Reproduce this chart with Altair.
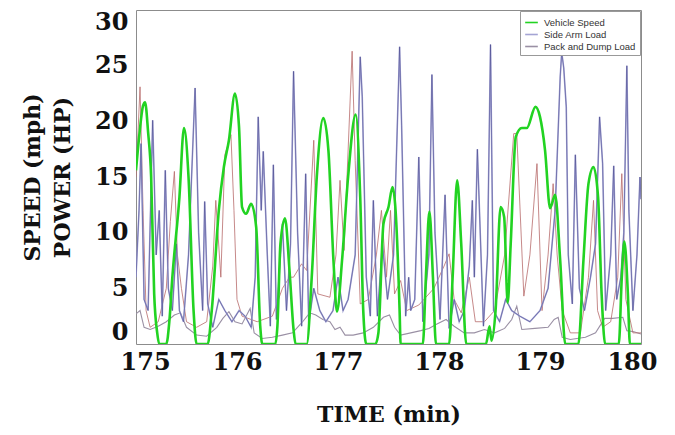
import altair as alt
import pandas as pd

# ---- data ----
speed_t = [175.00, 175.03, 175.07, 175.09, 175.12, 175.15, 175.18, 175.21, 175.23, 175.30,
           175.33, 175.36, 175.43, 175.475, 175.52, 175.57, 175.60, 175.71, 175.75, 175.82,
           175.87, 175.92, 175.98, 176.02, 176.05, 176.09, 176.14, 176.19, 176.23, 176.25,
           176.38, 176.40, 176.43, 176.475, 176.52, 176.56, 176.58, 176.69, 176.74, 176.79,
           176.855, 176.905, 176.955, 176.99, 177.04, 177.10, 177.175, 177.22, 177.25, 177.28,
           177.37, 177.40, 177.45, 177.50, 177.54, 177.57, 177.61, 177.62, 177.84, 177.87,
           177.905, 177.94, 177.97, 178.10, 178.135, 178.18, 178.22, 178.27, 178.465, 178.50,
           178.52, 178.56, 178.61, 178.645, 178.68, 178.71, 178.76, 178.82, 178.87, 178.955,
           179.00, 179.05, 179.10, 179.15, 179.20, 179.25, 179.38, 179.43, 179.48, 179.53,
           179.575, 179.61, 179.645, 179.78, 179.81, 179.835, 179.87, 179.89, 180.00]
speed_v = [15.6, 18.5, 21.4, 21.7, 19.0, 15.0, 4.5, 1.0, 0, 0,
           2, 6, 13.2, 19.4, 15.0, 3, 0, 0, 3, 12,
           15.9, 18.3, 22.5, 19.5, 12.3, 11.7, 12.6, 10.5, 1.6, 0,
           0, 1.6, 9, 11.3, 6.6, 1.3, 0, 0, 6, 15,
           20.3, 17.4, 7.5, 2.9, 7.5, 15, 20.6, 13.2, 3, 0,
           0, 1, 10.8, 12.3, 14.1, 12, 3, 0, 0, 6,
           11.9, 6, 0, 0, 6, 14.7, 9, 0, 0, 1.6,
           0.3, 3, 12.3, 11.4, 3.7, 9, 18.6, 19.4, 19.4, 21.3,
           20.4, 17.4, 12.2, 13.4, 7.5, 0, 0, 7.5, 14.4, 15.9,
           13.2, 4.5, 0, 0, 6, 9.2, 4.5, 0, 0]

side_t = [175.00, 175.03, 175.05, 175.08, 175.12, 175.165, 175.20, 175.23, 175.26, 175.29,
          175.32, 175.36, 175.40, 175.43, 175.47, 175.52, 175.585, 175.62, 175.66, 175.68,
          175.71, 175.76, 175.82, 175.88, 175.95, 176.02, 176.08, 176.14, 176.18, 176.21,
          176.24, 176.26, 176.30, 176.33, 176.36, 176.39, 176.45, 176.49, 176.53, 176.56,
          176.60, 176.64, 176.68, 176.71, 176.76, 176.82, 176.88, 176.95, 177.00, 177.05,
          177.10, 177.17, 177.22, 177.24, 177.28, 177.32, 177.35, 177.39, 177.44, 177.49,
          177.55, 177.61, 177.63, 177.67, 177.70, 177.72, 177.76, 177.80, 177.84, 177.90,
          177.93, 177.96, 178.01, 178.06, 178.10, 178.15, 178.20, 178.25, 178.30, 178.33,
          178.35, 178.38, 178.44, 178.48, 178.51, 178.54, 178.60, 178.66, 178.72, 178.80,
          178.90, 179.00, 179.08, 179.15, 179.20, 179.215, 179.235, 179.26, 179.28, 179.32,
          179.35, 179.39, 179.44, 179.50, 179.55, 179.59, 179.62, 179.65, 179.70, 179.73,
          179.76, 179.80, 179.83, 179.86, 179.88, 179.92, 179.96, 179.99, 180.00]
side_v = [6, 12, 18, 4, 3, 20.1, 8, 12, 2.5, 15.6,
          5, 3, 9, 3, 2, 8, 23, 10, 3, 12.8,
          3.6, 1.5, 4, 3, 2, 3, 2.5, 1.5, 6, 20.4,
          12, 17.3, 8, 1.6, 16.1, 2.2, 10.8, 3, 9, 24.5,
          10, 1.6, 15.3, 1.9, 5, 3, 2, 3, 6, 3,
          4, 8, 25.8, 22.2, 6, 2.5, 12.9, 2.5, 9, 4,
          8, 26.7, 19.6, 2.5, 6, 3, 4, 16.8, 2, 8,
          24.2, 10, 2.2, 13.4, 1.4, 4, 2, 3, 7, 12.9,
          6, 17.5, 1.6, 8, 26.9, 3, 2, 4, 3, 2.5,
          2, 3, 5, 12, 24, 26.2, 24.8, 21.3, 8, 3.6,
          17, 5, 3, 6, 9, 20.4, 16.2, 3, 8, 16,
          4, 6, 10, 25, 12, 3, 8, 15, 13]

dump_t = [175.00, 175.04, 175.08, 175.14, 175.22, 175.30, 175.38, 175.44, 175.50, 175.60,
          175.70, 175.80, 175.86, 175.92, 175.98, 176.05, 176.13, 176.17, 176.25, 176.35,
          176.45, 176.55, 176.65, 176.72, 176.78, 176.85, 176.92, 176.97, 177.02, 177.07,
          177.15, 177.25, 177.35, 177.45, 177.51, 177.56, 177.62, 177.72, 177.82, 177.90,
          177.98, 178.07, 178.15, 178.25, 178.35, 178.45, 178.55, 178.65, 178.72, 178.77,
          178.82, 178.95, 179.08, 179.14, 179.18, 179.22, 179.30, 179.45, 179.55, 179.64,
          179.72, 179.82, 179.86, 179.93, 180.00]
dump_v = [2.7, 3.0, 1.5, 1.3, 1.6, 2.0, 2.6, 2.8, 1.5, 0.8,
          0.7, 1.5, 2.3, 2.9, 2.0, 1.8, 3.2, 1.0, 0.5, 0.6,
          0.8, 1.0, 2.0, 2.8, 2.6, 2.2, 2.0, 1.3, 1.5, 0.8,
          0.8, 1.0, 1.5, 2.4, 2.6, 1.5, 0.8, 1.0, 1.2, 1.4,
          1.8, 2.2, 1.6, 1.0, 1.0, 1.3, 1.0, 1.4, 2.2, 3.4,
          1.3, 1.4, 1.5, 2.2, 2.4, 0.6, 0.4, 0.6, 1.0, 2.3,
          2.3, 2.4, 1.2, 1.1, 0.9]

other_t = [175.00, 175.04, 175.07, 175.10, 175.14, 175.22, 175.30, 175.34, 175.38, 175.41,
           175.45, 175.50, 175.60, 175.70, 175.76, 175.79, 175.84, 175.88, 175.94, 175.97,
           176.00, 176.05, 176.20, 176.35, 176.45, 176.52, 176.56, 176.64, 176.69, 176.76,
           176.80, 176.92, 176.98, 177.02, 177.06, 177.14, 177.17, 177.22, 177.30, 177.38,
           177.43, 177.48, 177.52, 177.56, 177.62, 177.68, 177.80, 177.95, 178.05, 178.10,
           178.15, 178.22, 178.30, 178.36, 178.45, 178.55, 178.65, 178.74, 178.77, 178.84,
           178.90, 178.97, 179.02, 179.08, 179.13, 179.17, 179.22, 179.30, 179.40, 179.48,
           179.53, 179.57, 179.62, 179.70, 179.77, 179.81, 179.85, 179.92, 180.00]
other_v = [15, 23.1, 12, 3, 1.5, 2, 5, 11, 15.5, 8,
           5, 2, 1.5, 2, 7, 12.9, 6, 17, 18.8, 12,
           4, 2.5, 2, 2.5, 5, 6, 6, 7.2, 6.6, 18.3,
           4.5, 4.2, 8, 14.7, 8.4, 26.3, 16.5, 3.6, 4, 8,
           12, 6, 12, 4.5, 5.7, 3, 3.5, 5, 7, 8.1,
           4, 2.8, 6, 2, 2, 3, 8, 18.9, 18.9, 4.3,
           8, 16.2, 3, 8, 14.4, 8, 3, 1, 1, 6,
           12.9, 3, 1.5, 2, 6, 15.3, 4, 1, 1]

x_ticks = [175, 176, 177, 178, 179, 180]
y_ticks = [0, 5, 10, 15, 20, 25, 30]
series_names = ["Vehicle Speed", "Side Arm Load", "Pack and Dump Load"]
series_colors = ["#22d322", "#a4a4d4", "#9a90a4"]


def frame(ts, vs, name):
    return pd.DataFrame({"t": ts, "v": vs, "series": name})


speed_df = frame(speed_t, speed_v, series_names[0])
side_df = frame(side_t, side_v, series_names[1])
dump_df = frame(dump_t, dump_v, series_names[2])
other_df = frame(other_t, other_v, "other")

font = "DejaVu Serif"

x_enc = alt.X(
    "t:Q",
    scale=alt.Scale(domain=[175, 180], nice=False, zero=False),
    axis=alt.Axis(
        title="TIME (min)", values=x_ticks, format="d", grid=False, ticks=False,
        domain=False, labelFlush=True, labelFlushOffset=16, labelPadding=6,
        titlePadding=30,
    ),
)
y_enc = alt.Y(
    "v:Q",
    scale=alt.Scale(domain=[0, 30], nice=False),
    axis=alt.Axis(
        title=["SPEED (mph)", "POWER (HP)"], values=y_ticks, grid=False, ticks=False,
        domain=False, labelFlush=True, labelFlushOffset=0, labelPadding=8,
        titlePadding=20, titleLineHeight=30,
    ),
)
color_enc = alt.Color(
    "series:N",
    scale=alt.Scale(domain=series_names, range=series_colors),
    legend=alt.Legend(
        title=None, orient="top-right", offset=1, padding=4, strokeColor="#999999",
        fillColor="white", labelFont="Liberation Sans", labelFontSize=9.5,
        labelColor="#333333", symbolType="stroke", symbolSize=160,
        symbolStrokeWidth=1.6, rowPadding=0, labelOffset=5, cornerRadius=0,
    ),
)

dump_layer = alt.Chart(dump_df).mark_line(strokeWidth=1.1, clip=True).encode(
    x=x_enc, y=y_enc, color=color_enc
)
other_layer = alt.Chart(other_df).mark_line(strokeWidth=1.0, clip=True, opacity=0.8).encode(
    x=x_enc, y=y_enc, color=alt.value("#b86c6c")
)
side_layer = alt.Chart(side_df).mark_line(strokeWidth=1.6, clip=True).encode(
    x=x_enc, y=y_enc, color=color_enc
)
side_core = alt.Chart(side_df).mark_line(strokeWidth=0.5, clip=True, opacity=0.8).encode(
    x=x_enc, y=y_enc, color=alt.value("#2c2c78")
)
speed_layer = alt.Chart(speed_df).mark_line(
    strokeWidth=2.6, clip=True, interpolate="monotone"
).encode(x=x_enc, y=y_enc, color=color_enc)

chart = alt.layer(dump_layer, other_layer, side_layer, side_core, speed_layer).properties(
    width=505,
    height=334,
    autosize=alt.AutoSizeParams(type="none"),
    padding={"left": 128, "top": 2, "right": 26, "bottom": 88},
).configure_view(
    stroke="#8c8c8c", strokeWidth=1
).configure_axis(
    labelFont=font, labelFontWeight="bold", labelFontSize=24, labelColor="#111111",
    titleFont=font, titleFontWeight="bold", titleFontSize=22, titleColor="#111111",
)

chart.save("out.html", embed_options={"renderer": "svg", "actions": False})
